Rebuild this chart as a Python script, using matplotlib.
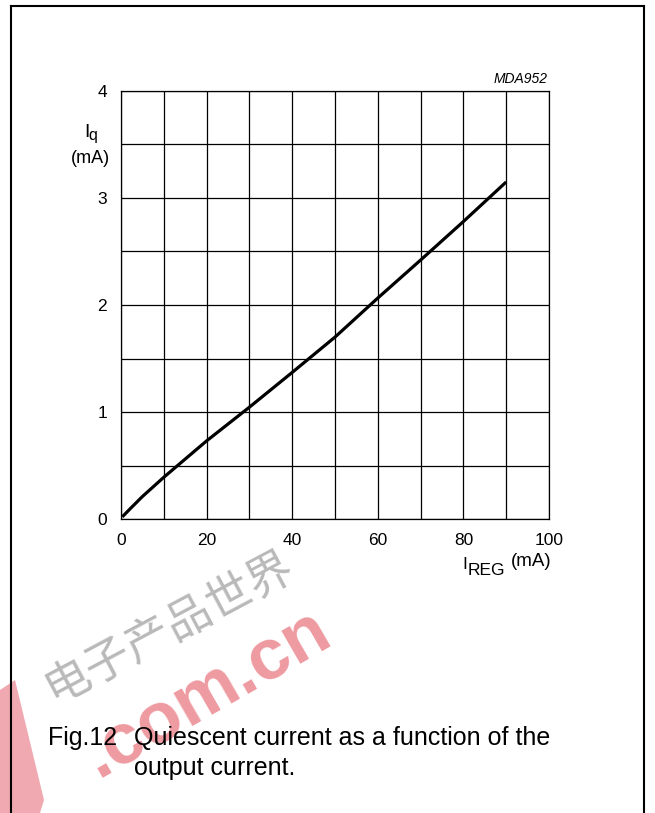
import matplotlib
matplotlib.use('Agg')
import matplotlib.pyplot as plt
from matplotlib.lines import Line2D
from matplotlib.patches import Polygon

plt.rcParams['font.family'] = ['Liberation Sans', 'DejaVu Sans']

#---    Data
i_reg = [0.3, 2, 5, 10, 20, 30, 40, 50, 60, 70, 80, 90]          # mA
i_q = [0.02, 0.09, 0.21, 0.39, 0.73, 1.045, 1.37, 1.70, 2.065, 2.42, 2.78, 3.15]   # mA
x_ticks = [0, 20, 40, 60, 80, 100]
y_ticks = [0, 1, 2, 3, 4]
x_grid = list(range(0, 101, 10))
y_grid = [0, 0.5, 1, 1.5, 2, 2.5, 3, 3.5, 4]

W, H = 655, 813
def px(x, y):
    return x / W, 1 - y / H

fig = plt.figure(figsize=(W / 100, H / 100), dpi=100)
fig.patch.set_facecolor('white')

#---    Frame around the figure
fig.add_artist(Line2D([11 / W, 11 / W], [0, 1 - 6 / H], color='black', lw=1.5))
fig.add_artist(Line2D([11 / W, 644 / W], [1 - 6 / H, 1 - 6 / H], color='black', lw=1.5))
fig.add_artist(Line2D([644 / W, 644 / W], [0, 1 - 6 / H], color='black', lw=1.5))

#---    Watermark
fig.text(*px(168, 627), '电子产品世界', fontsize=33, color='#a8a8a8', rotation=28,
         ha='center', va='center', family=['Noto Sans CJK SC', 'DejaVu Sans'], alpha=0.8, zorder=0)
fig.text(*px(207, 694), '.com.cn', fontsize=52, color='#e87880', rotation=30,
         ha='center', va='center', weight='bold', alpha=0.75, zorder=0)
fig.add_artist(Polygon([px(0, 690), px(15, 680), px(44, 800), px(40, 813), px(0, 813)],
                       closed=True, facecolor='#ee9aa2', edgecolor='none', alpha=0.85,
                       transform=fig.transFigure, zorder=0))

#---    Chart
ax = fig.add_axes([121 / W, (H - 519) / H, 428 / W, 428 / H])
ax.set_xlim(0, 100)
ax.set_ylim(0, 4)
ax.set_xticks(x_ticks)
ax.set_yticks(y_ticks)
ax.set_xticks(x_grid, minor=True)
ax.set_yticks(y_grid, minor=True)
ax.grid(which='both', color='black', lw=0.9)
ax.tick_params(which='both', length=0)
ax.tick_params(axis='x', pad=10, labelsize=12.5)
ax.tick_params(axis='y', pad=10, labelsize=12.5)
for s in ax.spines.values():
    s.set_linewidth(0.9)

ax.plot(i_reg, i_q, color='black', lw=2.3, solid_capstyle='butt')

#---    Axis labels
fig.text(*px(84, 137), 'I', fontsize=14, ha='left', va='baseline')
fig.text(*px(88.5, 140), 'q', fontsize=11.5, ha='left', va='baseline')
fig.text(*px(110, 163), '(mA)', fontsize=13, ha='right', va='baseline')

fig.text(*px(462.5, 569), 'I', fontsize=12.5, ha='left', va='baseline')
fig.text(*px(467.5, 575), 'REG', fontsize=12.5, ha='left', va='baseline')
fig.text(*px(552, 566), '(mA)', fontsize=13.5, ha='right', va='baseline')

fig.text(*px(548, 83), 'MDA952', fontsize=10, style='italic', ha='right', va='baseline')

#---    Caption
fig.text(*px(48, 745), 'Fig.12', fontsize=18, ha='left', va='baseline')
fig.text(*px(134, 745), 'Quiescent current as a function of the', fontsize=18, ha='left', va='baseline')
fig.text(*px(134, 775), 'output current.', fontsize=18, ha='left', va='baseline')

plt.savefig('out.png', dpi=100, facecolor='white')
